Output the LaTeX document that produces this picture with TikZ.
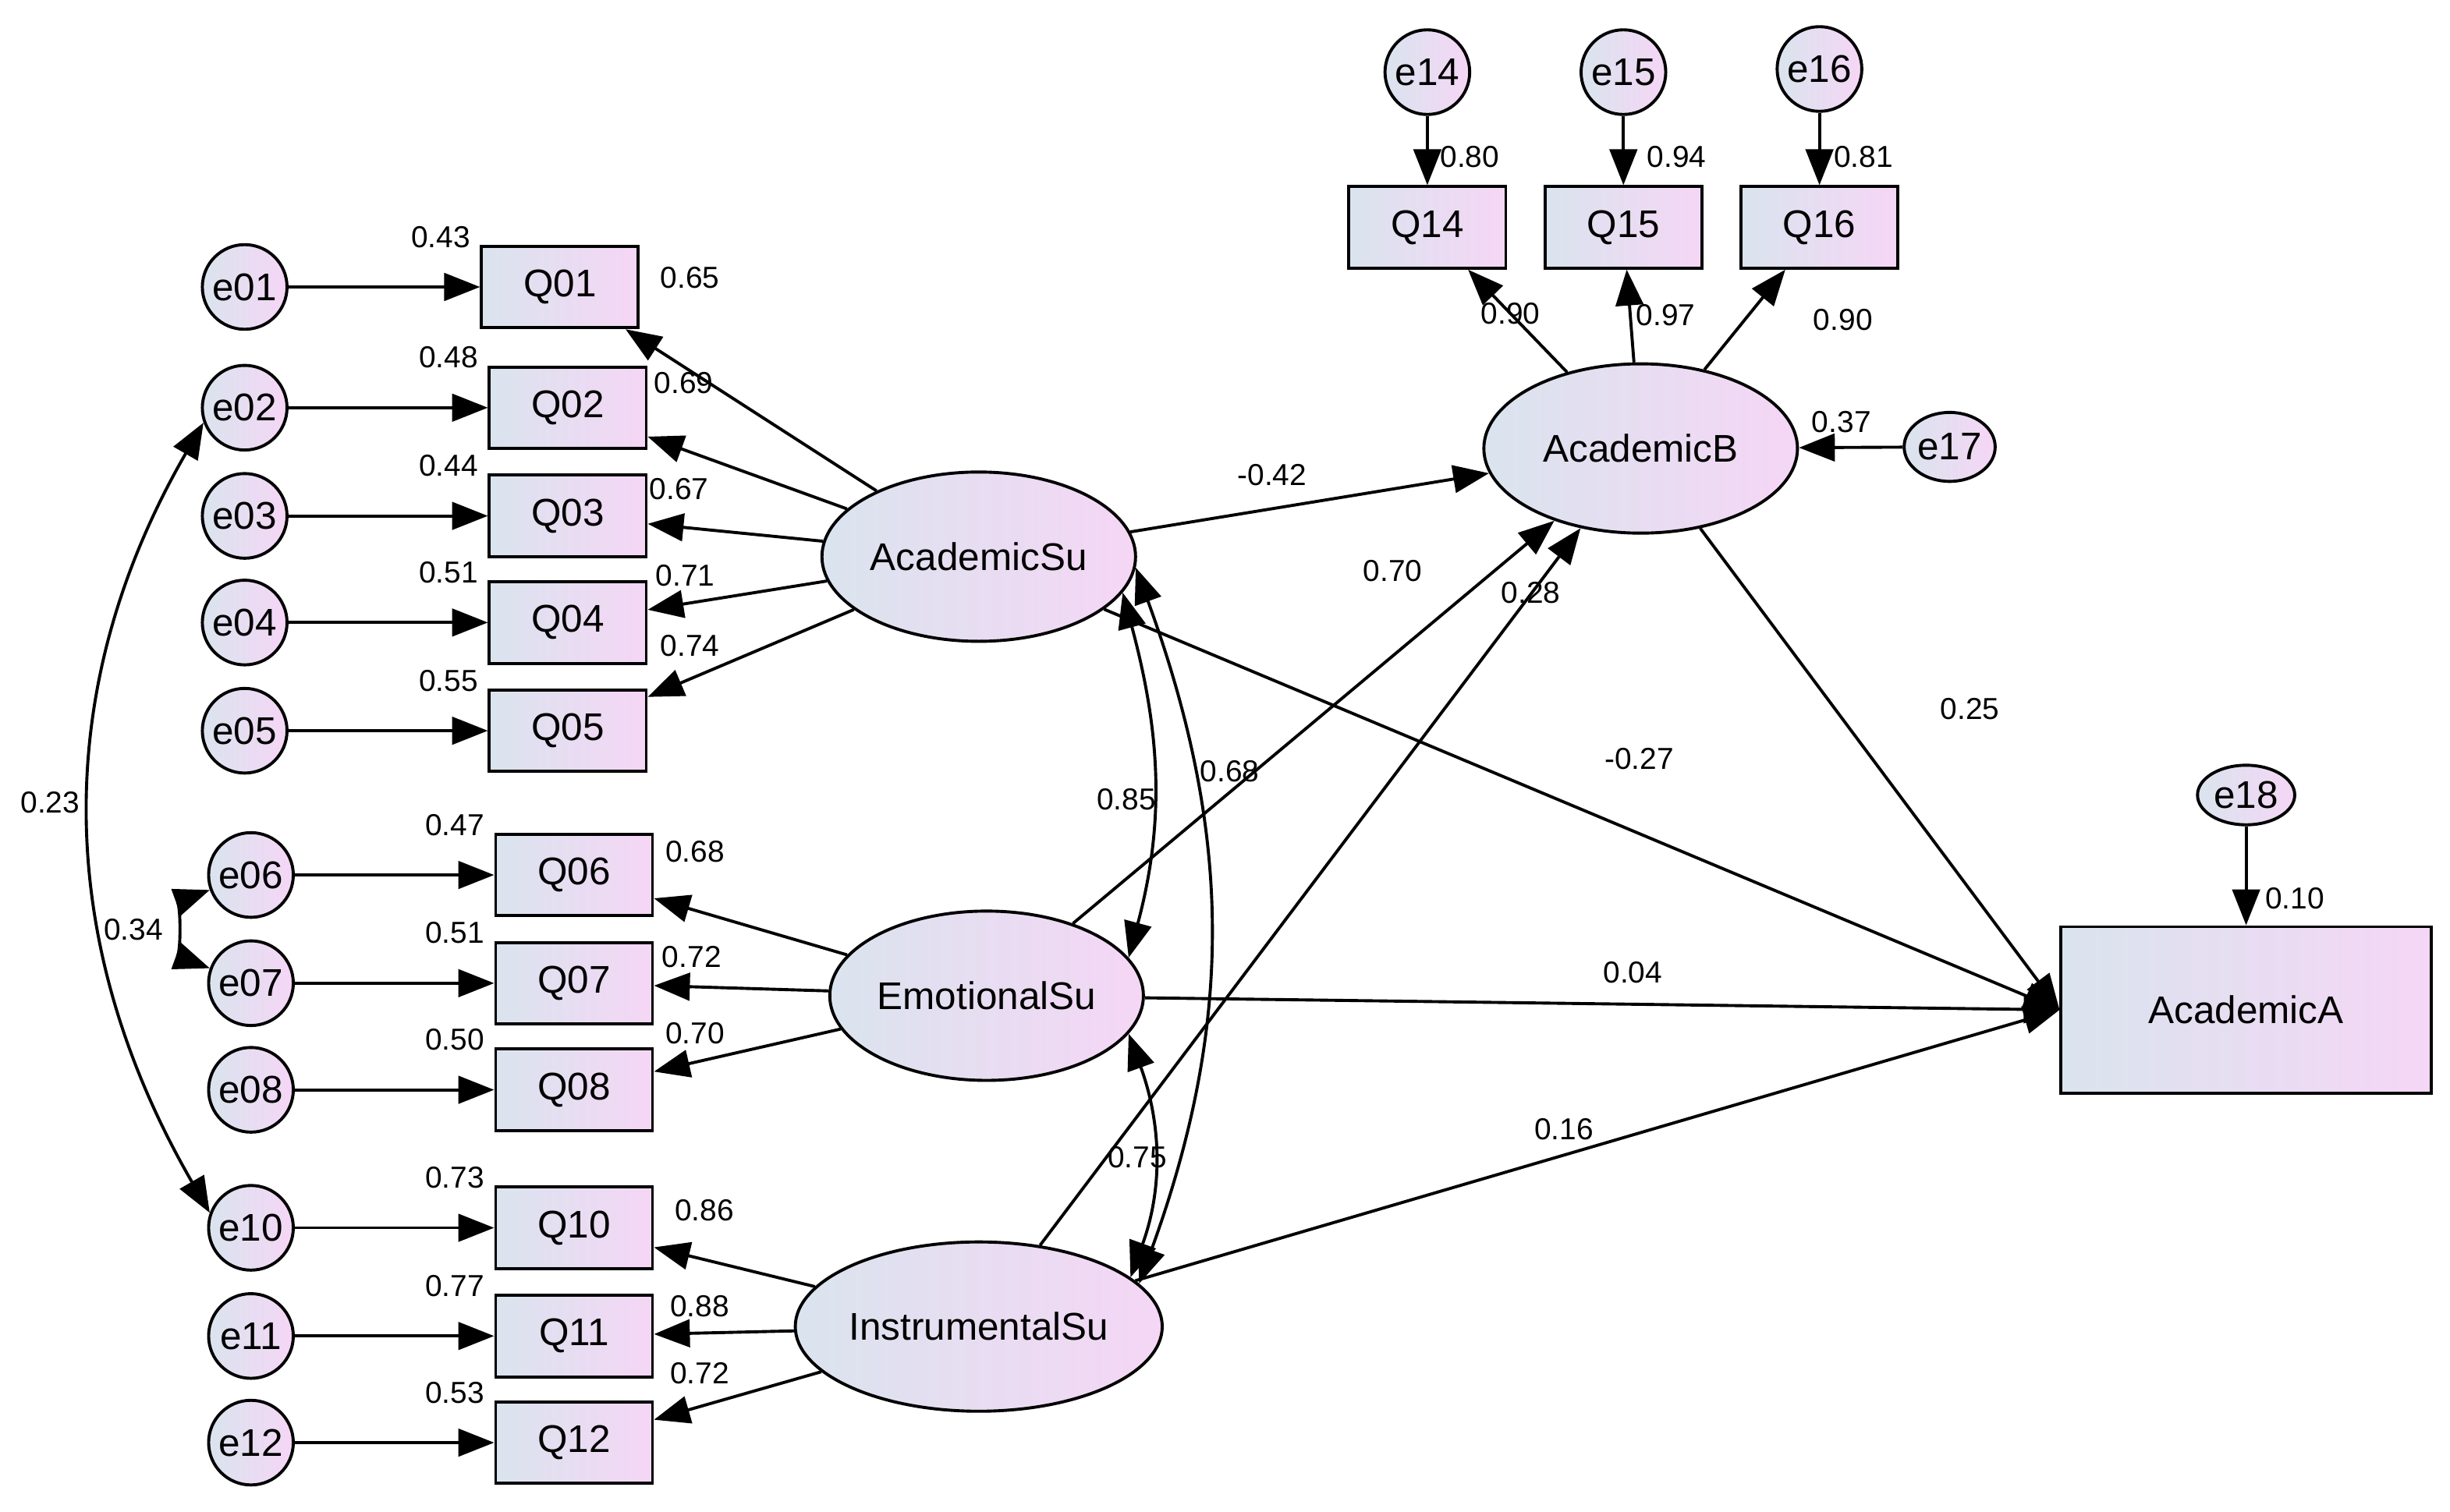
\documentclass[tikz,border=0pt]{standalone}
\usepackage{fontspec}
\setmainfont{Liberation Sans}
\usetikzlibrary{arrows.meta,shapes.geometric}
\tikzset{
  grad/.style={shading=axis, left color={rgb,255:red,218;green,228;blue,238}, right color={rgb,255:red,245;green,214;blue,245}, shading angle=90},
  err/.style={circle, draw, line width=1.1pt, minimum size=1.08cm, inner sep=0pt, grad, font=\fontsize{14}{16}\selectfont},
  obs/.style={rectangle, draw, line width=1.1pt, minimum width=2cm, minimum height=1.04cm, grad, font=\fontsize{14}{16}\selectfont},
  lat/.style={ellipse, draw, line width=1.1pt, minimum width=4cm, minimum height=2.16cm, inner sep=0pt, grad, font=\fontsize{14}{16}\selectfont},
  arr/.style={line width=1.1pt, -{Triangle[length=13pt,width=10pt]}},
  biarr/.style={line width=1.1pt, {Triangle[length=13pt,width=10pt]}-{Triangle[length=13pt,width=10pt]}},
  lbl/.style={font=\fontsize{11}{13}\selectfont, inner sep=1pt}
}
\begin{document}
\begin{tikzpicture}[x=0.02cm, y=-0.02cm]
\useasboundingbox (0,0) rectangle (1562,964);
% latent variables
\node[lat] (AS) at (624,355) {AcademicSu};
\node[lat] (ES) at (629,635) {EmotionalSu};
\node[lat] (IS) at (624,846) {InstrumentalSu};
\node[lat] (AB) at (1046,286) {AcademicB};
\node[obs, minimum width=4.72cm, minimum height=2.12cm] (AA) at (1432,644) {AcademicA};

% indicators with error terms
\foreach \n/\ex/\qx/\y/\sq/\sx/\ld/\lx/\ly/\f in {
    01/156/357/183/0.43/281/0.65/440/177/AS,
    02/156/362/260/0.48/286/0.69/436/244/AS,
    03/156/362/329/0.44/286/0.67/433/312/AS,
    04/156/362/397/0.51/286/0.71/437/367/AS,
    05/156/362/466/0.55/286/0.74/440/412/AS,
    06/160/366/558/0.47/290/0.68/443/543/ES,
    07/160/366/627/0.51/290/0.72/441/610/ES,
    08/160/366/695/0.50/290/0.70/443/659/ES,
    10/160/366/783/0.73/290/0.86/449/772/IS,
    11/160/366/852/0.77/290/0.88/446/833/IS,
    12/160/366/920/0.53/290/0.72/446/876/IS}{
  \node[err] (e\n) at (\ex,\y) {e\n};
  \node[obs] (Q\n) at (\qx,\y) {Q\n};
  \draw[arr] (e\n) -- (Q\n);
  \draw[arr] (\f) -- (Q\n);
  \node[lbl] at (\sx,\y-32) {\sq};
  \node[lbl] at (\lx,\ly) {\ld};
}

% indicators of AcademicB
\foreach \n/\x/\ey/\sq/\sx/\ld/\lx/\ly in {
    14/910/46/0.80/937/0.90/963/200,
    15/1035/46/0.94/1069/0.97/1062/201,
    16/1160/44/0.81/1188/0.90/1175/204}{
  \node[err] (e\n) at (\x,\ey) {e\n};
  \node[obs] (Q\n) at (\x,145) {Q\n};
  \draw[arr] (e\n) -- (Q\n);
  \draw[arr] (AB) -- (Q\n);
  \node[lbl] at (\sx,100) {\sq};
  \node[lbl] at (\lx,\ly) {\ld};
}

% disturbances
\node[err, ellipse, minimum width=1.12cm, minimum height=0.88cm] (e17) at (1243,285) {e17};
\node[err, ellipse, minimum width=1.24cm, minimum height=0.76cm] (e18) at (1432,507) {e18};
\draw[arr] (e17) -- (AB);
\draw[arr] (e18) -- (AA);
\node[lbl] at (1174,269) {0.37};
\node[lbl] at (1463,573) {0.10};

% covariances
\draw[biarr] (e02.200) to[out=240,in=120] (e10.160);
\draw[biarr] (e06.200) to[out=200,in=160] (e07.160);
\draw[biarr] (AS.-14) to[out=-75,in=75] (ES.15);
\draw[biarr] (AS.-4) to[out=-70,in=70] (IS.15);
\draw[biarr] (ES.-15) to[out=-70,in=70] (IS.18);
\node[lbl] at (32,512) {0.23};
\node[lbl] at (85,593) {0.34};
\node[lbl] at (718,510) {0.85};
\node[lbl] at (784,492) {0.68};
\node[lbl] at (725,738) {0.75};

% structural paths
\draw[arr] (AS) -- (AB);
\draw[arr] (ES) -- (AB);
\draw[arr] (IS) -- (AB);
\draw[arr] (AS) -- (AA.west);
\draw[arr] (ES) -- (AA.west);
\draw[arr] (IS) -- (AA.west);
\draw[arr] (AB) -- (AA.west);
\node[lbl] at (811,303) {-0.42};
\node[lbl] at (888,364) {0.70};
\node[lbl] at (976,378) {0.28};
\node[lbl] at (1045,484) {-0.27};
\node[lbl] at (1041,620) {0.04};
\node[lbl] at (997,720) {0.16};
\node[lbl] at (1256,452) {0.25};
\end{tikzpicture}
\end{document}
